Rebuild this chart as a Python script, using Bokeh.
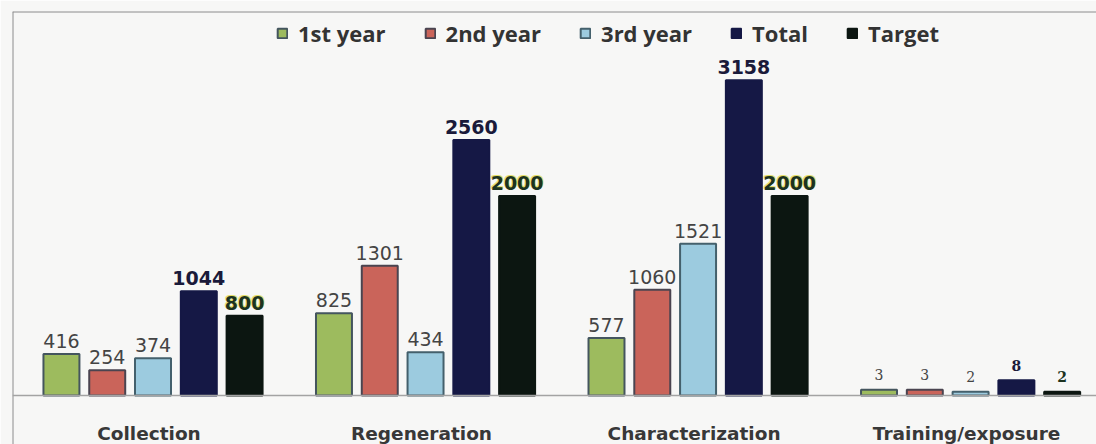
from bokeh.plotting import figure
from bokeh.models import ColumnDataSource, Range1d, Span, Legend, LegendItem
from bokeh.core.properties import value
from bokeh.embed import file_html
from bokeh.resources import INLINE

# ---- data ----
categories = ["Collection", "Regeneration", "Characterization", "Training/exposure"]
series = ["1st year", "2nd year", "3rd year", "Total", "Target"]
first_year = [416, 825, 577, 3]
second_year = [254, 1301, 1060, 3]
third_year = [374, 434, 1521, 2]
total = [1044, 2560, 3158, 8]
target = [800, 2000, 2000, 2]
values = [first_year, second_year, third_year, total, target]

# ---- style ----
fills = ["#9dbb5e", "#ca645a", "#9ccbdf", "#151845", "#0c1611"]
edges = ["#44555e", "#4a4450", "#44606c", "#151845", "#0c1611"]
label_colors = ["#444444", "#444444", "#444444", "#1a1a3a", "#1c3320"]
label_styles = ["normal", "normal", "normal", "bold", "bold"]
halo = [None, None, None, None, "#e3dc5a"]
BG = "#f7f7f6"

bar_pitch = 0.168
bar_width = 0.132
main_cats = 3          # categories drawn on the main scale
train_ratio = 19.0     # the small last group is drawn on a magnified scale

x0, x1 = -0.5156, 3.462
y0, y1 = -491, 3848
p = figure(width=1096, height=444,
           x_range=Range1d(x0, x1), y_range=Range1d(y0, y1),
           x_axis_type=None, y_axis_type=None,
           output_backend="svg", toolbar_location=None,
           min_border_left=12, min_border_top=11,
           min_border_right=0, min_border_bottom=0)
p.extra_y_ranges = {"train": Range1d(y0 / train_ratio, y1 / train_ratio)}
p.grid.visible = False
p.background_fill_color = BG
p.border_fill_color = BG
p.outline_line_color = None

# chart border (left and top only visible in the reference) and baseline
p.add_layout(Span(location=x0, dimension="height", line_color="#8c8c8c", line_width=2))
p.add_layout(Span(location=y1, dimension="width", line_color="#8c8c8c", line_width=2))
p.add_layout(Span(location=0, dimension="width", line_color="#a3a3a3", line_width=1.5))

legend_items = []
for j, name in enumerate(series):
    off = (j - 2) * bar_pitch
    vals = values[j]
    main_src = ColumnDataSource(dict(
        x=[i + off for i in range(main_cats)],
        top=vals[:main_cats],
        lab=[str(v) for v in vals[:main_cats]]))
    tr_src = ColumnDataSource(dict(
        x=[i + off for i in range(main_cats, len(categories))],
        top=vals[main_cats:],
        lab=[str(v) for v in vals[main_cats:]]))
    r = p.vbar(x="x", top="top", width=bar_width, source=main_src,
               fill_color=fills[j], line_color=edges[j], line_width=2)
    p.vbar(x="x", top="top", width=bar_width, source=tr_src,
           fill_color=fills[j], line_color=edges[j], line_width=2,
           y_range_name="train")
    legend_items.append(LegendItem(label=name, renderers=[r]))
    if halo[j]:
        for dx, dy in [(-1, -1), (1, -1)]:
            p.text(x="x", y="top", text="lab", source=main_src,
                   text_align="center", text_baseline="alphabetic",
                   x_offset=dx, y_offset=-13 + dy,
                   text_font=value("DejaVu Sans"), text_font_size="19px",
                   text_font_style=label_styles[j], text_color=halo[j],
                   text_alpha=0.8)
    p.text(x="x", y="top", text="lab", source=main_src,
           text_align="center", text_baseline="alphabetic", y_offset=-13,
           text_font=value("DejaVu Sans"), text_font_size="19px",
           text_font_style=label_styles[j], text_color=label_colors[j])
    p.text(x="x", y="top", text="lab", source=tr_src, y_range_name="train",
           text_align="center", text_baseline="alphabetic", y_offset=-15,
           text_font=value("DejaVu Serif"), text_font_size="14px",
           text_font_style=label_styles[j], text_color=label_colors[j])

cat_src = ColumnDataSource(dict(x=list(range(len(categories))),
                                y=[0] * len(categories), t=categories))
p.text(x="x", y="y", text="t", source=cat_src,
       text_align="center", text_baseline="alphabetic", y_offset=38, x_offset=-4,
       text_font=value("DejaVu Sans"), text_font_size="18.5px",
       text_font_style="bold", text_color="#383838")

legend = Legend(items=legend_items, orientation="horizontal",
                location=(264, 396), padding=0, margin=0, spacing=38,
                glyph_width=12, glyph_height=12, label_standoff=10,
                label_text_font="Open Sans", label_text_font_size="22px",
                label_text_font_style="bold", label_text_color="#333333",
                border_line_color=None, background_fill_alpha=0)
p.add_layout(legend)

open("out.html", "w").write(file_html(p, INLINE))
